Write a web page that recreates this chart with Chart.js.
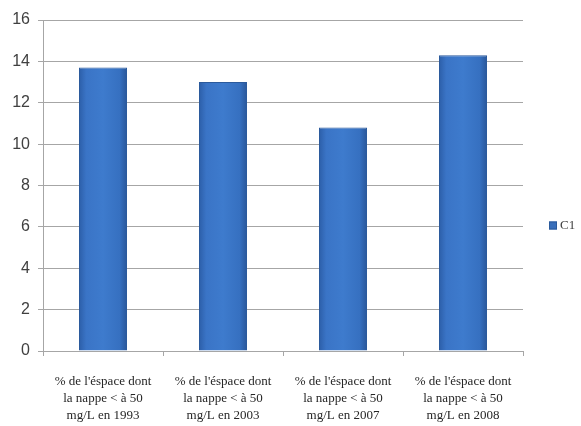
<!DOCTYPE html>
<html>
<head>
<meta charset="utf-8">
<script src="https://cdn.jsdelivr.net/npm/chart.js@4/dist/chart.umd.min.js"></script>
<style>
    html, body { margin: 0; padding: 0; background: #ffffff; }
    #wrap { width: 581px; height: 426px; }
</style>
</head>
<body>
<div id="wrap"><canvas id="nappeChart"></canvas></div>
<script>
// Chart data
const categories = [
    ["% de l'éspace dont", "la nappe < à 50", "mg/L en 1993"],
    ["% de l'éspace dont", "la nappe < à 50", "mg/L en 2003"],
    ["% de l'éspace dont", "la nappe < à 50", "mg/L en 2007"],
    ["% de l'éspace dont", "la nappe < à 50", "mg/L en 2008"]
];
const seriesName = 'C1';
const seriesValues = [13.7, 13.0, 10.8, 14.3];
const yTicks = [0, 2, 4, 6, 8, 10, 12, 14, 16];

// Horizontal shading across each bar, like a rounded column
function barGradient(context) {
    const chart = context.chart;
    const xScale = chart.scales.x;
    if (!xScale || context.dataIndex === undefined) return '#3a72c2';
    const cx = xScale.getPixelForValue(context.dataIndex);
    if (!isFinite(cx)) return '#3a72c2';
    const half = 24;
    const g = chart.ctx.createLinearGradient(cx - half, 0, cx + half, 0);
    g.addColorStop(0, '#2c5ea8');
    g.addColorStop(0.15, '#3a74c6');
    g.addColorStop(0.5, '#3e7bcd');
    g.addColorStop(0.85, '#3670c0');
    g.addColorStop(1, '#2a5799');
    return g;
}

// Small legend to the right of the plot area
const sideLegend = {
    id: 'sideLegend',
    afterDraw(chart) {
        const c = chart.ctx;
        const area = chart.chartArea;
        const midY = (area.top + area.bottom) / 2 + 40;
        const x = area.right + 26;
        c.save();
        c.fillStyle = '#3a6fba';
        c.strokeStyle = '#2b5a9c';
        c.lineWidth = 1;
        c.fillRect(x, midY - 4, 8, 8);
        c.strokeRect(x + 0.5, midY - 3.5, 7, 7);
        c.fillStyle = '#404040';
        c.font = '13px "Liberation Serif"';
        c.textBaseline = 'middle';
        c.fillText(seriesName, x + 11, midY);
        c.restore();
    }
};

const ctx = document.getElementById('nappeChart').getContext('2d');
const nappeChart = new Chart(ctx, {
    type: 'bar',
    data: {
        labels: categories,
        datasets: [{
            label: seriesName,
            data: seriesValues,
            backgroundColor: barGradient,
            borderColor: '#2b5a9c',
            borderWidth: 1,
            barPercentage: 0.8,
            categoryPercentage: 0.5
        }]
    },
    plugins: [sideLegend],
    options: {
        responsive: true,
        maintainAspectRatio: false,
        animation: false,
        layout: {
            padding: { left: 7, right: 58, top: 20, bottom: 0 }
        },
        plugins: {
            legend: { display: false },
            tooltip: { enabled: false }
        },
        scales: {
            x: {
                afterFit: scale => { scale.height = 75; },
                grid: {
                    display: true,
                    drawOnChartArea: false,
                    drawTicks: true,
                    tickLength: 5,
                    offset: true,
                    color: '#a6a6a6'
                },
                border: { color: '#a6a6a6', width: 1 },
                ticks: {
                    color: '#262626',
                    maxRotation: 0,
                    autoSkip: false,
                    padding: 17,
                    font: { family: 'Liberation Serif', size: 13, lineHeight: 1.3 }
                }
            },
            y: {
                min: 0,
                max: 16,
                afterFit: scale => { scale.width = 36; },
                afterBuildTicks: axis => {
                    axis.ticks = yTicks.map(v => ({ value: v }));
                },
                grid: {
                    color: '#a6a6a6',
                    tickLength: 5
                },
                border: { color: '#a6a6a6', width: 1 },
                ticks: {
                    color: '#404040',
                    padding: 8,
                    font: { family: 'Liberation Sans', size: 16 }
                }
            }
        }
    }
});
</script>
</body>
</html>
